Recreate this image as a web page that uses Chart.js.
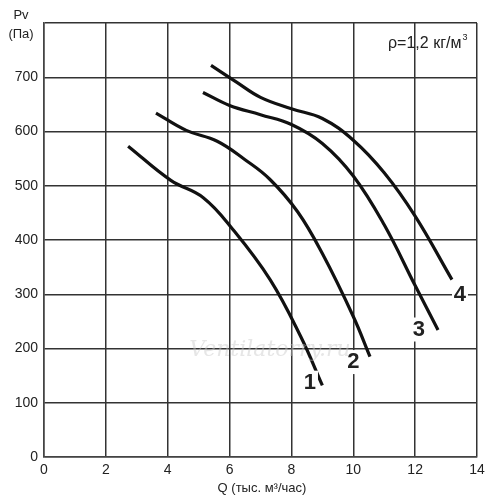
<!DOCTYPE html>
<html>
<head>
<meta charset="utf-8">
<script src="https://cdn.jsdelivr.net/npm/chart.js@4"></script>
<style>
  html, body { margin: 0; padding: 0; background: #fff; }
  #wrap { width: 500px; height: 500px; }
</style>
</head>
<body>
<div id="wrap"><canvas id="c" width="500" height="500"></canvas></div>
<script>
// fan curves, Q in thousand m3/h, Pv in Pa
const curve1Q = [2.72, 4.1, 5.15, 6.1, 7.31, 8.3, 9.0];
const curve1P = [573, 510, 478, 420, 327, 222, 132];
const curve2Q = [3.62, 4.6, 5.6, 6.5, 7.3, 8.2, 9.0, 10.0, 10.54];
const curve2P = [634, 602, 582, 548, 512, 452, 375, 259, 185];
const curve3Q = [5.14, 6.0, 7.0, 8.0, 9.0, 10.0, 11.0, 12.0, 12.74];
const curve3P = [672, 648, 631, 613, 578, 518, 428, 316, 234];
const curve4Q = [5.4, 6.2, 7.0, 8.0, 9.0, 10.0, 11.0, 12.0, 13.19];
const curve4P = [722, 692, 663, 642, 624, 584, 524, 444, 327];

const curveNames = ['1', '2', '3', '4'];
const nameQ = [8.6, 10.0, 12.12, 13.45];
const nameP = [137, 175, 235, 299];

const allQ = [curve1Q, curve2Q, curve3Q, curve4Q];
const allP = [curve1P, curve2P, curve3P, curve4P];

const FONT = '"Liberation Sans", Arial, sans-serif';

const datasets = allQ.map((qs, i) => ({
  label: curveNames[i],
  data: qs.map((q, j) => ({ x: q, y: allP[i][j] })),
  showLine: true,
  borderColor: '#111',
  borderWidth: 3.2,
  pointRadius: 0,
  tension: 0.4,
  fill: false
}));

const annotate = {
  id: 'annotate',
  afterDatasetsDraw(chart) {
    const ctx = chart.ctx;
    const xs = chart.scales.x, ys = chart.scales.y;
    ctx.save();
    // curve numbers with white backing
    ctx.font = 'bold 22px ' + FONT;
    ctx.textAlign = 'center';
    ctx.textBaseline = 'middle';
    curveNames.forEach((n, i) => {
      const px = xs.getPixelForValue(nameQ[i]);
      const py = ys.getPixelForValue(nameP[i]);
      ctx.fillStyle = '#fff';
      ctx.fillRect(px - 8, py - 12, 16, 24);
      ctx.fillStyle = '#222';
      ctx.fillText(n, px, py);
    });
    // watermark
    ctx.font = 'italic 22px "DejaVu Serif", serif';
    ctx.fillStyle = 'rgba(200,200,200,0.45)';
    ctx.fillText('Ventilatorry.ru', 270, 350);
    // density note
    ctx.font = '16px ' + FONT;
    ctx.fillStyle = '#222';
    ctx.textAlign = 'left';
    const note = '\u03c1=1,2 кг/м';
    ctx.fillText(note, 388, 44);
    const w = ctx.measureText(note).width;
    ctx.font = '9px ' + FONT;
    ctx.fillText('3', 388 + w + 1, 38);
    // axis titles
    ctx.font = '13px ' + FONT;
    ctx.textAlign = 'center';
    ctx.fillText('Pv', 21, 15);
    ctx.fillText('(Па)', 21, 34);
    ctx.fillText('Q (тыс. м³/час)', 262, 488);
    ctx.restore();
  }
};

new Chart(document.getElementById('c'), {
  type: 'scatter',
  data: { datasets },
  options: {
    responsive: false,
    animation: false,
    layout: { padding: { top: 23, right: 23, left: 0, bottom: 0 } },
    plugins: { legend: { display: false }, tooltip: { enabled: false } },
    scales: {
      x: {
        type: 'linear',
        min: 0, max: 14,
        ticks: { stepSize: 2, color: '#222', padding: 5, font: { size: 14, family: FONT } },
        grid: { color: '#333', lineWidth: 1.5, drawTicks: false },
        border: { color: '#444', width: 1.5 },
        afterFit: s => { s.height = 43; }
      },
      y: {
        type: 'linear',
        min: 0, max: 800,
        ticks: {
          stepSize: 100, color: '#222', padding: 6,
          font: { size: 14, family: FONT },
          callback: v => (v === 800 ? '' : v)
        },
        grid: { color: '#333', lineWidth: 1.5, drawTicks: false },
        border: { color: '#444', width: 1.5 },
        afterFit: s => { s.width = 44; }
      }
    }
  },
  plugins: [annotate]
});
</script>
</body>
</html>
